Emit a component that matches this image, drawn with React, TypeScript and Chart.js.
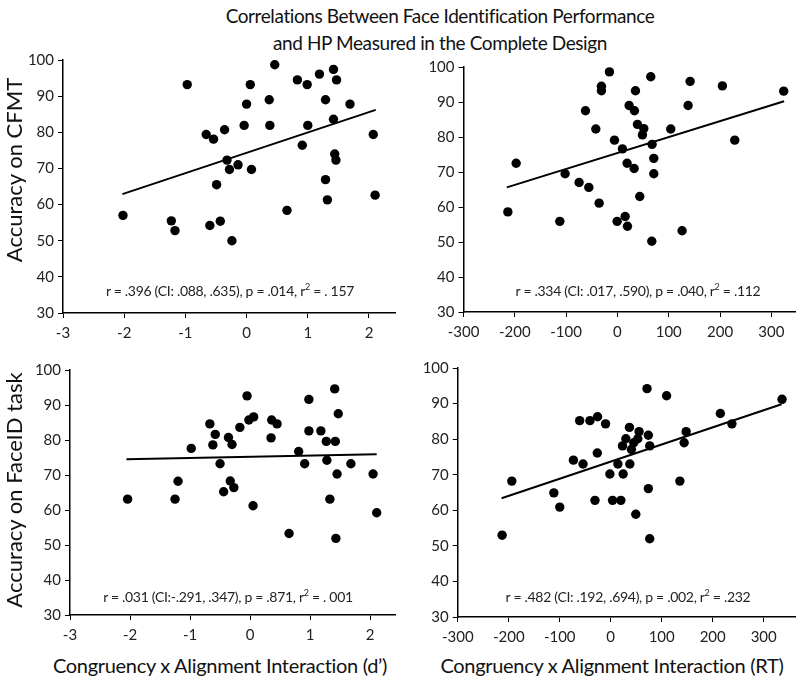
import React, { useEffect, useRef } from "react";
import { Chart, registerables } from "chart.js";

Chart.register(...registerables);

const FONT = "Lato, 'Open Sans', sans-serif";

// ---- Data: top-left (d' vs CFMT)
const dCfmtX = [-2.02, -0.97, 0.46, 0.06, 0.0, 0.37, 0.83, 0.99, 1.19, 1.42, 1.47, 1.29, 1.69, 1.42, 1.0, 0.38, -0.04, -0.36, -0.66, -0.54, 2.07, 0.91, 1.44, 1.46, -0.32, -0.14, -0.28, 0.08, -0.49, 1.29, 1.32, 2.1, 0.66, -1.23, -1.17, -0.6, -0.43, -0.24];
const dCfmtY = [57.0, 93.2, 98.7, 93.2, 87.8, 89.0, 94.5, 93.2, 96.1, 97.4, 94.5, 89.0, 87.8, 83.6, 81.9, 81.9, 81.9, 80.7, 79.4, 78.1, 79.4, 76.4, 74.0, 72.3, 72.3, 71.0, 69.7, 69.7, 65.5, 66.9, 61.3, 62.6, 58.4, 55.5, 52.8, 54.2, 55.4, 50.0];
const dCfmtFitX = [-2.03, 2.11];
const dCfmtFitY = [62.9, 86.2];

// ---- Data: top-right (RT vs CFMT)
const rtCfmtX = [-213.6, -197.4, -112.3, -102, -74.7, -55.8, -62.3, -42.2, -35.7, -31.2, -31.2, -15.6, -5.8, 9.7, -0.6, 15, 19.5, 18.8, 22.7, 33.1, 35.1, 32.5, 39, 51.3, 48.7, 43.5, 64.9, 67.5, 70.8, 70.8, 66.9, 103.9, 126, 137.7, 141.6, 204.5, 228.6, 324];
const rtCfmtY = [58.6, 72.5, 55.9, 69.5, 67.0, 65.6, 87.5, 82.3, 61.1, 94.5, 93.2, 98.6, 79.1, 76.6, 55.9, 57.3, 54.5, 72.5, 89.0, 87.5, 93.2, 71.0, 83.6, 82.4, 80.6, 63.0, 97.2, 77.9, 73.9, 69.5, 50.2, 82.3, 53.2, 89.0, 95.9, 94.6, 79.1, 93.1];
const rtCfmtFitX = [-215.6, 324.7];
const rtCfmtFitY = [65.6, 90.2];

// ---- Data: bottom-left (d' vs FaceID)
const dFaceX = [-2.04, -1.25, -1.2, -0.98, -0.67, -0.58, -0.62, -0.36, -0.3, -0.5, -0.33, -0.27, -0.44, -0.17, -0.05, -0.02, 0.06, 0.05, 0.36, 0.45, 0.35, 0.65, 0.81, 0.91, 0.98, 0.98, 1.18, 1.27, 1.42, 1.28, 1.41, 1.47, 1.45, 1.33, 1.43, 1.68, 2.05, 2.11];
const dFaceY = [63.1, 63.1, 68.2, 77.6, 84.6, 81.6, 78.6, 80.7, 78.7, 73.2, 68.3, 66.4, 65.2, 83.6, 92.6, 85.7, 86.6, 61.2, 85.7, 84.6, 80.6, 53.3, 76.7, 73.2, 91.6, 82.6, 82.6, 79.6, 79.6, 74.2, 94.6, 87.5, 70.3, 63.1, 51.9, 73.2, 70.3, 59.2];
const dFaceFitX = [-2.06, 2.11];
const dFaceFitY = [74.5, 75.9];

// ---- Data: bottom-right (RT vs FaceID)
const rtFaceX = [-213, -194, -111.6, -99.9, -73.2, -60.9, -54.3, -40.7, -25.8, -26.3, -30.9, -10.1, -1.6, 3.6, 19.9, 14.0, 24.4, 23.1, 29.7, 36.7, 37.5, 40.6, 45.2, 53.1, 55.6, 49.2, 71.2, 73.8, 76.5, 73.8, 76.5, 109.6, 135.6, 144, 147.9, 215, 237.7, 336];
const rtFaceY = [53.0, 68.2, 64.9, 60.9, 74.1, 85.2, 73.0, 85.2, 86.3, 76.1, 62.8, 84.3, 70.2, 62.8, 62.8, 73.0, 70.2, 78.1, 80.1, 83.3, 73.0, 77.1, 79.0, 80.1, 82.1, 58.9, 94.2, 81.1, 78.1, 66.1, 52.0, 92.2, 68.2, 79.0, 82.1, 87.2, 84.3, 91.2];
const rtFaceFitX = [-214, 335];
const rtFaceFitY = [63.4, 89.8];

// ---- Ticks
const dTicks = [-3, -2, -1, 0, 1, 2];
const rtTicks = [-300, -200, -100, 0, 100, 200, 300];
const yTicks = [30, 40, 50, 60, 70, 80, 90, 100];

const titleLines = [
  "Correlations Between Face Identification Performance",
  "and HP Measured in the Complete Design",
];

type PanelProps = {
  left: number; top: number; width: number; height: number;
  pad: { top: number; right: number; left: number; bottom: number };
  yW: number; xH: number;
  xs: number[]; ys: number[]; fitX: number[]; fitY: number[];
  xMin: number; xMax: number; xTicks: number[];
};

function Panel(p: PanelProps) {
  const ref = useRef<HTMLCanvasElement>(null);
  useEffect(() => {
    const tickFont = { family: FONT, size: 15 };
    const chart = new Chart(ref.current as HTMLCanvasElement, {
      type: "scatter",
      data: {
        datasets: [
          {
            type: "scatter",
            data: p.xs.map((x, i) => ({ x, y: p.ys[i] })),
            backgroundColor: "#000",
            borderColor: "#000",
            pointRadius: 4.7,
            borderWidth: 0,
          } as any,
          {
            type: "line",
            data: p.fitX.map((x, i) => ({ x, y: p.fitY[i] })),
            borderColor: "#000",
            borderWidth: 2,
            pointRadius: 0,
            fill: false,
            tension: 0,
          } as any,
        ],
      },
      options: {
        animation: false,
        responsive: false,
        events: [],
        layout: { padding: p.pad },
        plugins: { legend: { display: false }, tooltip: { enabled: false } },
        scales: {
          x: {
            type: "linear",
            min: p.xMin,
            max: p.xMax,
            afterBuildTicks: (s: any) => { s.ticks = p.xTicks.map((v) => ({ value: v })); },
            afterFit: (s: any) => { s.height = p.xH; },
            grid: { drawOnChartArea: false, color: "#000", tickLength: 5, tickWidth: 1 },
            border: { color: "#000", width: 1.5 },
            ticks: { color: "#222", font: tickFont, padding: 6, maxRotation: 0, autoSkip: false },
          },
          y: {
            type: "linear",
            min: 30,
            max: 100,
            afterBuildTicks: (s: any) => { s.ticks = yTicks.map((v) => ({ value: v })); },
            afterFit: (s: any) => { s.width = p.yW; },
            grid: { drawOnChartArea: false, color: "#000", tickLength: 5, tickWidth: 1 },
            border: { color: "#000", width: 1.5 },
            ticks: { color: "#222", font: tickFont, padding: 4, autoSkip: false },
          },
        },
      } as any,
    });
    return () => chart.destroy();
  }, []);
  return (
    <canvas
      ref={ref}
      width={p.width}
      height={p.height}
      style={{ position: "absolute", left: p.left, top: p.top, width: p.width, height: p.height }}
    />
  );
}

function Stat({ x, y, r, ci, pv, r2 }: { x: number; y: number; r: string; ci: string; pv: string; r2: string }) {
  return (
    <div
      style={{
        position: "absolute", left: x - 200, top: y - 10, width: 400, textAlign: "center",
        fontSize: 14, letterSpacing: "-0.3px", lineHeight: "20px", color: "#222", whiteSpace: "nowrap",
      }}
    >
      {`r = ${r} (CI${ci}), p = ${pv}, r`}
      <sup style={{ fontSize: 9, lineHeight: 0 }}>2</sup>
      {` = ${r2}`}
    </div>
  );
}

export default function App() {
  return (
    <div
      style={{
        position: "absolute", left: 0, top: 0, width: 800, height: 682,
        background: "#fff", fontFamily: FONT, color: "#111", overflow: "hidden",
      }}
    >
      <div style={{ position: "absolute", left: 140, top: 2, width: 600, textAlign: "center", fontSize: 19, letterSpacing: "-0.4px", lineHeight: "27px", color: "#111" }}>
        <div>{titleLines[0]}</div>
        <div>{titleLines[1]}</div>
      </div>

      <Panel left={0} top={40} width={400} height={310} pad={{ top: 20, right: 2, left: 0, bottom: 0 }} yW={63} xH={37}
        xs={dCfmtX} ys={dCfmtY} fitX={dCfmtFitX} fitY={dCfmtFitY} xMin={-3} xMax={2.43} xTicks={dTicks} />
      <Panel left={400} top={40} width={400} height={310} pad={{ top: 27, right: 5, left: 0, bottom: 0 }} yW={63.5} xH={38}
        xs={rtCfmtX} ys={rtCfmtY} fitX={rtCfmtFitX} fitY={rtCfmtFitY} xMin={-300} xMax={346} xTicks={rtTicks} />
      <Panel left={0} top={350} width={400} height={300} pad={{ top: 20, right: 2, left: 0, bottom: 0 }} yW={70} xH={35}
        xs={dFaceX} ys={dFaceY} fitX={dFaceFitX} fitY={dFaceFitY} xMin={-3} xMax={2.42} xTicks={dTicks} />
      <Panel left={400} top={350} width={400} height={300} pad={{ top: 18, right: 3, left: 0, bottom: 0 }} yW={57.75} xH={33}
        xs={rtFaceX} ys={rtFaceY} fitX={rtFaceFitX} fitY={rtFaceFitY} xMin={-300} xMax={362} xTicks={rtTicks} />

      <Stat x={230} y={291} r=".396" ci=": .088, .635" pv=".014" r2=". 157" />
      <Stat x={638} y={291} r=".334" ci=": .017, .590" pv=".040" r2=".112" />
      <Stat x={228} y={597} r=".031" ci=":-.291, .347" pv=".871" r2=". 001" />
      <Stat x={628} y={597} r=".482" ci=": .192, .694" pv=".002" r2=".232" />

      <div style={{ position: "absolute", left: 14 - 150, top: 170 - 14, width: 300, height: 28, lineHeight: "28px", textAlign: "center", fontSize: 22, transform: "rotate(-90deg)", whiteSpace: "nowrap" }}>
        Accuracy on CFMT
      </div>
      <div style={{ position: "absolute", left: 14 - 150, top: 490 - 14, width: 300, height: 28, lineHeight: "28px", textAlign: "center", fontSize: 22, transform: "rotate(-90deg)", whiteSpace: "nowrap" }}>
        Accuracy on FaceID task
      </div>

      <div style={{ position: "absolute", left: 220 - 200, top: 652, width: 400, textAlign: "center", fontSize: 20, letterSpacing: "-0.3px", lineHeight: "26px", whiteSpace: "nowrap" }}>
        Congruency x Alignment Interaction (d’)
      </div>
      <div style={{ position: "absolute", left: 612 - 200, top: 652, width: 400, textAlign: "center", fontSize: 20, letterSpacing: "-0.3px", lineHeight: "26px", whiteSpace: "nowrap" }}>
        Congruency x Alignment Interaction (RT)
      </div>
    </div>
  );
}
